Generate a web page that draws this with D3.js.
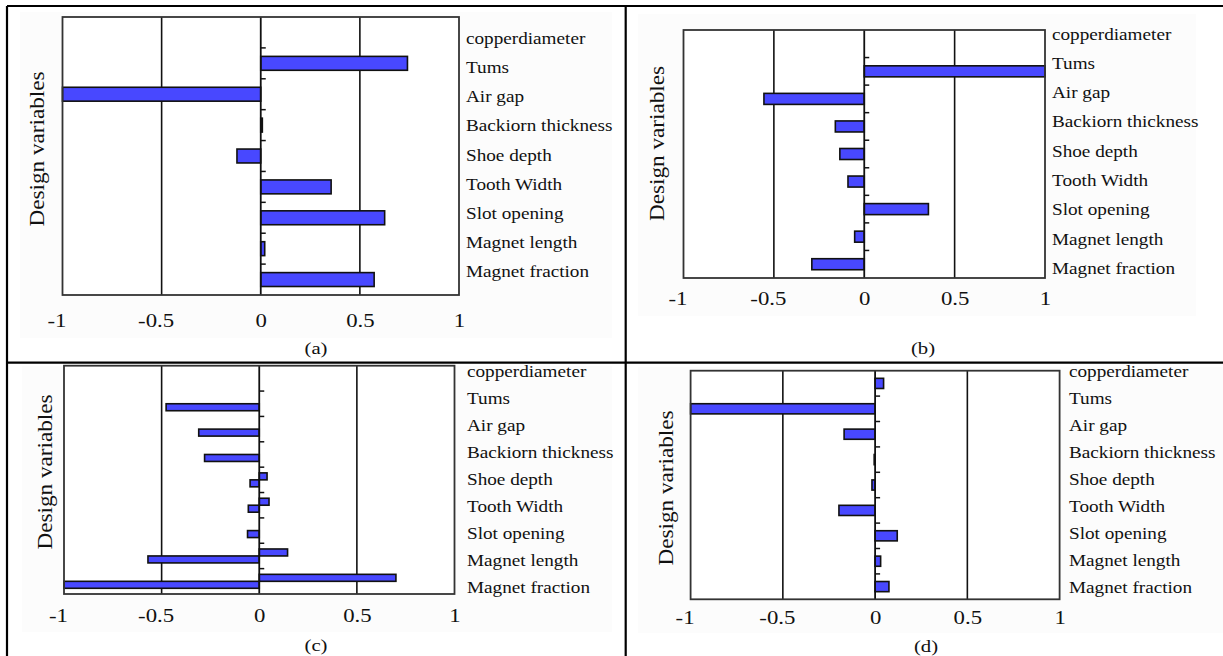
<!DOCTYPE html>
<html>
<head>
<meta charset="utf-8">
<script src="https://cdn.jsdelivr.net/npm/d3@7"></script>
<style>
  html, body { margin: 0; padding: 0; background: #ffffff; }
  svg { display: block; }
  svg text { font-family: "Liberation Serif", "Times New Roman", serif !important; fill: #111; }
</style>
</head>
<body>
<svg id="chart" width="1223" height="656"></svg>
<script>
// ---------- data ----------
const categories = ["copperdiameter", "Tums", "Air gap", "Backiorn thickness", "Shoe depth",
                    "Tooth Width", "Slot opening", "Magnet length", "Magnet fraction"];
const xTickValues = [-1, -0.5, 0, 0.5, 1];
const panelCaptions = ["(a)", "(b)", "(c)", "(d)"];
const yAxisTitle = "Design variables";

const valuesA  = [0, 0.74, -1.0, 0.008, -0.12, 0.355, 0.625, 0.02, 0.572];
const valuesB  = [0, 1.0, -0.555, -0.16, -0.135, -0.09, 0.355, -0.053, -0.29];
const valuesC1 = [0, 0, 0, 0, 0.04, 0.05, 0, 0.145, 0.70];
const valuesC2 = [0, -0.477, -0.31, -0.28, -0.047, -0.056, -0.06, -0.57, -1.0];
const valuesD  = [0.046, -1.0, -0.168, -0.005, -0.017, -0.196, 0.12, 0.03, 0.075];

const seriesByPanel = [[valuesA], [valuesB], [valuesC1, valuesC2], [valuesD]];

// ---------- layout ----------
const layouts = [
  {x0: 62.5, x1: 459,   y0: 17,    y1: 295,   labX: 466,  lab0: 44,    lab1: 277, tickY: 327, capX: 316, capY: 354, titleX: 38,  titleY: 149, pad: 0.55, bg: [20, 12, 592, 326]},
  {x0: 683.5, x1: 1045, y0: 30,    y1: 278,   labX: 1052, lab0: 39.5,  lab1: 274, tickY: 305, capX: 923, capY: 354, titleX: 658, titleY: 143.5, pad: 0.6, bg: [638, 14, 558, 302]},
  {x0: 64,   x1: 454.5, y0: 365.7, y1: 594,   labX: 467,  lab0: 377,   lab1: 593, tickY: 622, capX: 316, capY: 651, titleX: 46,  titleY: 472, pad: 0.45, bg: [22, 366, 590, 266]},
  {x0: 690.6, x1: 1059.6, y0: 370.7, y1: 599.3, labX: 1069, lab0: 377, lab1: 593, tickY: 624, capX: 926, capY: 652, titleX: 667, titleY: 488, pad: 0.6, bg: [638, 367, 585, 266]}
];

const FONT = "'Liberation Serif', 'Times New Roman', serif";
const svg = d3.select("#chart");
const BAR_FILL = "#4848ff";

layouts.forEach((L, pi) => {
  const g = svg.append("g");
  const series = seriesByPanel[pi];

  // very light background of the embedded figure
  g.append("rect").attr("x", L.bg[0]).attr("y", L.bg[1]).attr("width", L.bg[2]).attr("height", L.bg[3])
    .attr("fill", "#fcfcfc");
  g.append("rect").attr("x", L.x0).attr("y", L.y0).attr("width", L.x1 - L.x0).attr("height", L.y1 - L.y0)
    .attr("fill", "#ffffff");

  const x = d3.scaleLinear().domain([-1, 1]).range([L.x0, L.x1]);
  const y = d3.scaleBand().domain(categories).range([L.y0, L.y1])
    .paddingInner(L.pad).paddingOuter(L.pad / 2);
  const sub = d3.scaleBand().domain(d3.range(series.length)).range([0, y.bandwidth()]);

  // vertical grid lines
  g.selectAll(".grid").data([-0.5, 0.5]).join("line")
    .attr("x1", d => x(d)).attr("x2", d => x(d))
    .attr("y1", L.y0).attr("y2", L.y1)
    .attr("stroke", "#111").attr("stroke-width", 1.6);

  // bars
  series.forEach((vals, si) => {
    const rows = categories.map((c, i) => ({c, v: vals[i]})).filter(d => d.v !== 0);
    g.selectAll(".bar" + si).data(rows).join("rect")
      .attr("x", d => Math.min(x(0), x(d.v)))
      .attr("width", d => Math.abs(x(d.v) - x(0)))
      .attr("y", d => y(d.c) + sub(si))
      .attr("height", sub.bandwidth())
      .attr("fill", BAR_FILL)
      .attr("stroke", "#111").attr("stroke-width", 1.6);
  });

  // zero line with small category ticks
  g.append("line").attr("x1", x(0)).attr("x2", x(0)).attr("y1", L.y0).attr("y2", L.y1)
    .attr("stroke", "#111").attr("stroke-width", 1.8);
  const step = y.step();
  g.selectAll(".ytick").data(d3.range(1, categories.length)).join("line")
    .attr("x1", x(0)).attr("x2", x(0) + 5)
    .attr("y1", d => L.y0 + d * step).attr("y2", d => L.y0 + d * step)
    .attr("stroke", "#111").attr("stroke-width", 1.5);

  // frame
  g.append("rect").attr("x", L.x0).attr("y", L.y0).attr("width", L.x1 - L.x0).attr("height", L.y1 - L.y0)
    .attr("fill", "none").attr("stroke", "#333").attr("stroke-width", 1.8);

  // x axis tick labels
  const ax = g.append("g").call(d3.axisBottom(x).tickValues(xTickValues).tickSize(0)
    .tickFormat(d => String(d)));
  ax.attr("font-family", FONT);
  ax.select(".domain").remove();
  ax.selectAll("text")
    .attr("y", 0).attr("dy", 0)
    .attr("font-size", 19)
    .style("font-family", FONT)
    .attr("fill", "#111")
    .attr("transform", d => `translate(${d < 0 ? -6 : 0},${L.tickY}) scale(1.2,1)`);

  // category labels on the right
  const lp = d3.scalePoint().domain(categories).range([L.lab0, L.lab1]);
  g.selectAll(".cat").data(categories).join("text")
    .attr("transform", d => `translate(${L.labX},${lp(d)}) scale(1.2,1)`)
    .attr("font-size", 16)
    .style("font-family", FONT)
    .text(d => d);

  // y axis title
  g.append("text")
    .attr("transform", `translate(${L.titleX},${L.titleY}) rotate(-90) scale(1.16,1)`)
    .attr("text-anchor", "middle").attr("dominant-baseline", "central")
    .attr("font-size", 20)
    .style("font-family", FONT)
    .text(yAxisTitle);

  // caption
  g.append("text")
    .attr("transform", `translate(${L.capX},${L.capY}) scale(1.22,1)`)
    .attr("text-anchor", "middle").attr("font-size", 17)
    .style("font-family", FONT)
    .text(panelCaptions[pi]);
});

// table rules
const rules = [
  [7, 6, 1223, 6],
  [7, 6, 7, 656],
  [625.7, 6, 625.7, 656],
  [7, 362.7, 1223, 362.7]
];
svg.selectAll(".rule").data(rules).join("line")
  .attr("x1", d => d[0]).attr("y1", d => d[1]).attr("x2", d => d[2]).attr("y2", d => d[3])
  .attr("stroke", "#000").attr("stroke-width", 2.2);
</script>
</body>
</html>
